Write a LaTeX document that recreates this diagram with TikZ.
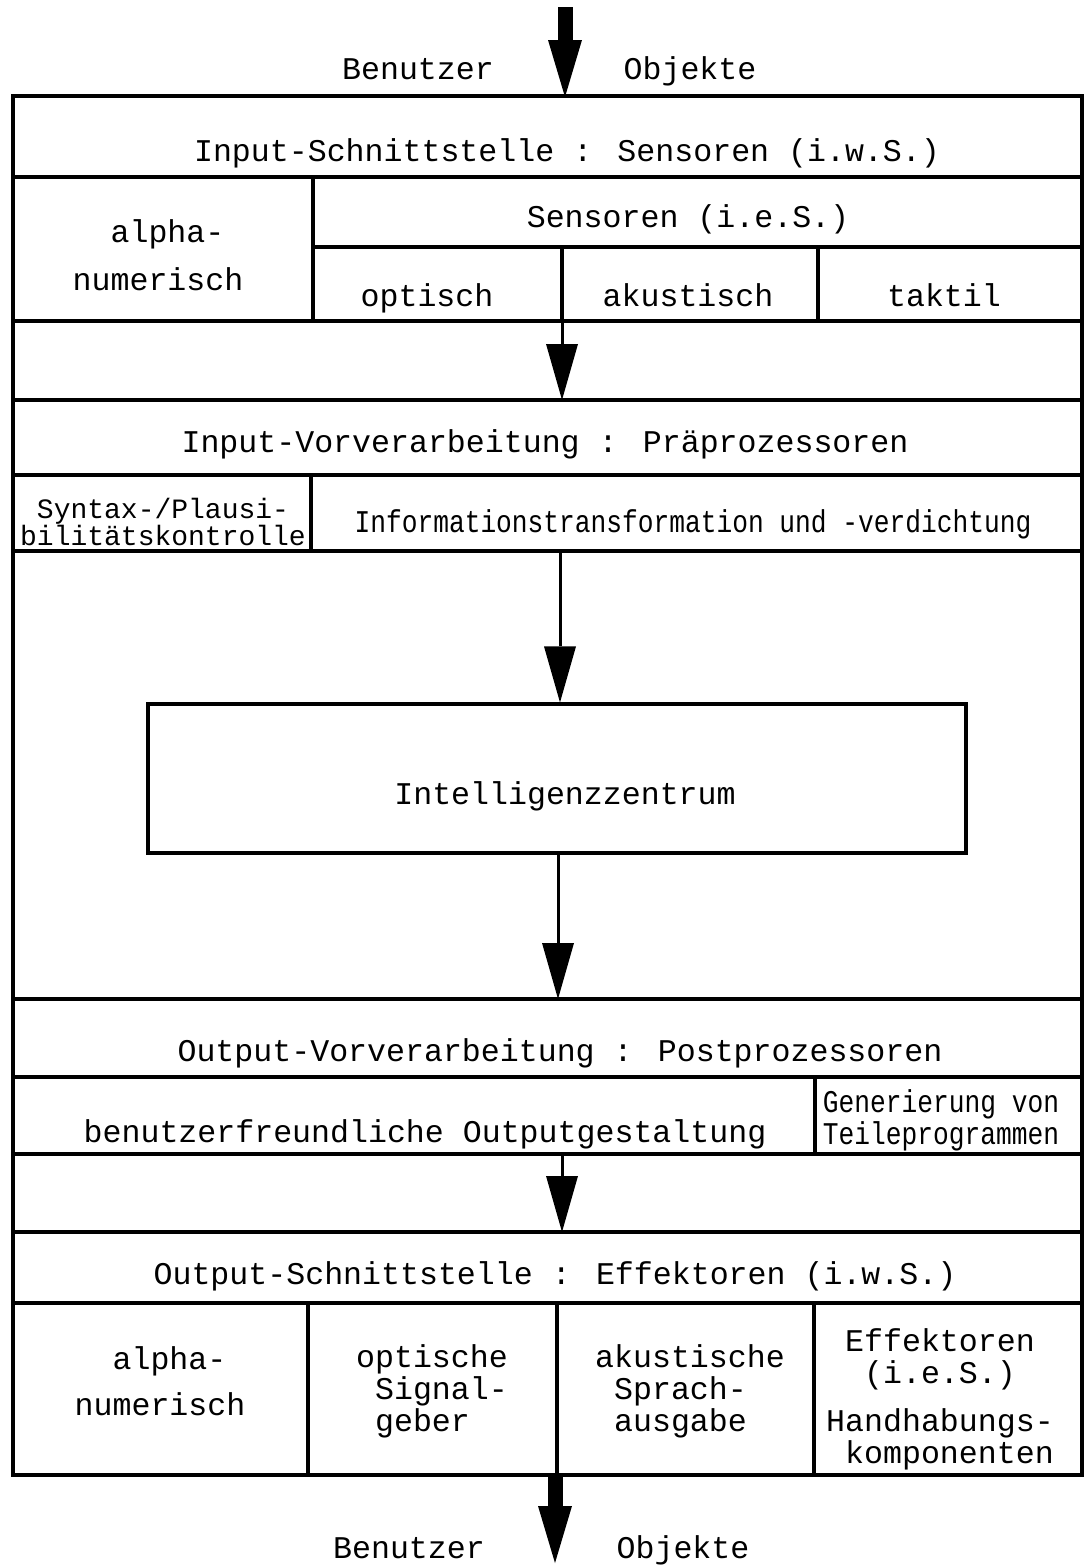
\documentclass[tikz,border=0pt]{standalone}
\usepackage{fontspec}
\newfontfamily\tw{Liberation Mono}
\newfontfamily\twB[FakeStretch=0.83]{Liberation Mono}
\usetikzlibrary{arrows.meta}
\tikzset{
  frame/.style={line width=1.6pt},
  lbl/.style={inner sep=0pt, font=\tw\fontsize{15.8pt}{16pt}\selectfont, text height=11pt, text depth=3pt},
  mlbl/.style={inner sep=0pt, font=\tw\fontsize{15.8pt}{16pt}\selectfont, align=left},
  nlblA/.style={inner sep=0pt, font=\tw\fontsize{14pt}{16pt}\selectfont, align=center},
  nlblB/.style={inner sep=0pt, font=\twB\fontsize{15.8pt}{16pt}\selectfont, align=center},
  thinarrow/.style={line width=1.5pt, -{Triangle[width=16pt,length=28pt,line width=0pt]}},
  thickarrow/.style={line width=7.5pt, -{Triangle[width=17pt,length=28.5pt,line width=0pt]}},
  boxstyle/.style={draw, line width=1.6pt, inner sep=0pt, minimum width=409pt, minimum height=74.5pt}
}
\begin{document}
\begin{tikzpicture}[x=0.5pt,y=-0.5pt]
\useasboundingbox (0,0) rectangle (1085,1565);
% frame
\draw[frame] (13,96) rectangle (1082,1475);
\foreach \yy in {177,321,400,475,551,999,1077,1154,1232,1303}
  \draw[frame] (13,\yy) -- (1082,\yy);
\draw[frame] (313,247) -- (1082,247);
\draw[frame] (313,177) -- (313,321);
\draw[frame] (562,247) -- (562,321);
\draw[frame] (818,247) -- (818,321);
\draw[frame] (311,475) -- (311,551);
\draw[frame] (815,1077) -- (815,1154);
\foreach \xx in {308,557,814}
  \draw[frame] (\xx,1303) -- (\xx,1475);
% central box
\node[boxstyle] (iz) at (557,778.5) {};
% coordinates for connectors
\coordinate (t0) at (565,7);
\coordinate (t1) at (565,97);
\coordinate (a1s) at (562,321);
\coordinate (a1e) at (562,400);
\coordinate (a2s) at (560,551);
\coordinate (a3e) at (558,999);
\coordinate (a4s) at (562,1154);
\coordinate (a4e) at (562,1232);
\coordinate (b0) at (555,1475);
\coordinate (b1) at (555,1563);
% connectors
\draw[thickarrow] (t0) -- (t1);
\draw[thinarrow] (a1s) -- (a1e);
\draw[thinarrow] (a2s) -- (a2s |- iz.north);
\draw[thinarrow] (iz.south -| a3e) -- (a3e);
\draw[thinarrow] (a4s) -- (a4e);
\draw[thickarrow] (b0) -- (b1);
% texts
\node[lbl] (bt) at (418,71) {Benutzer};
\node[lbl] (ot) at (690,71) {Objekte};
\node[lbl] (is) at (567,153) {Input-Schnittstelle : Sensoren (i.w.S.)};
\node[mlbl] (an1) at (158,255) {\phantom{oo}alpha-\\[8pt]numerisch};
\node[lbl] (ses) at (688,219) {Sensoren (i.e.S.)};
\node[lbl] (opt) at (427,298) {optisch};
\node[lbl] (aku) at (688,298) {akustisch};
\node[lbl] (tak) at (944,298) {taktil};
\node[lbl] (iv) at (545,444) {Input-Vorverarbeitung : Präprozessoren};
\node[nlblA] (syn) at (163,522) {Syntax-/Plausi-\\[-2.5pt]bilitätskontrolle};
\node[nlblB] (inf) at (693,524) {Informationstransformation und -verdichtung};
\node[lbl] (izl) at (565,796) {Intelligenzzentrum};
\node[lbl] (ov) at (560,1053) {Output-Vorverarbeitung : Postprozessoren};
\node[lbl] (buo) at (425,1134) {benutzerfreundliche Outputgestaltung};
\node[nlblB] (gen) at (941,1120) {Generierung von\\Teileprogrammen};
\node[lbl] (os) at (555,1276) {Output-Schnittstelle : Effektoren (i.w.S.)};
\node[mlbl] (an2) at (160,1381) {\phantom{oo}alpha-\\[7pt]numerisch};
\node[mlbl] (osg) at (432,1391) {optische\\\phantom{o}Signal-\\\phantom{o}geber};
\node[mlbl] (asa) at (690,1391) {akustische\\\phantom{o}Sprach-\\\phantom{o}ausgabe};
\node[mlbl] (eff) at (940,1399) {\phantom{o}Effektoren\\\phantom{oo}(i.e.S.)\\[8pt]Handhabungs-\\\phantom{o}komponenten};
\node[lbl] (bb) at (409,1550) {Benutzer};
\node[lbl] (ob) at (683,1550) {Objekte};
\end{tikzpicture}
\end{document}
